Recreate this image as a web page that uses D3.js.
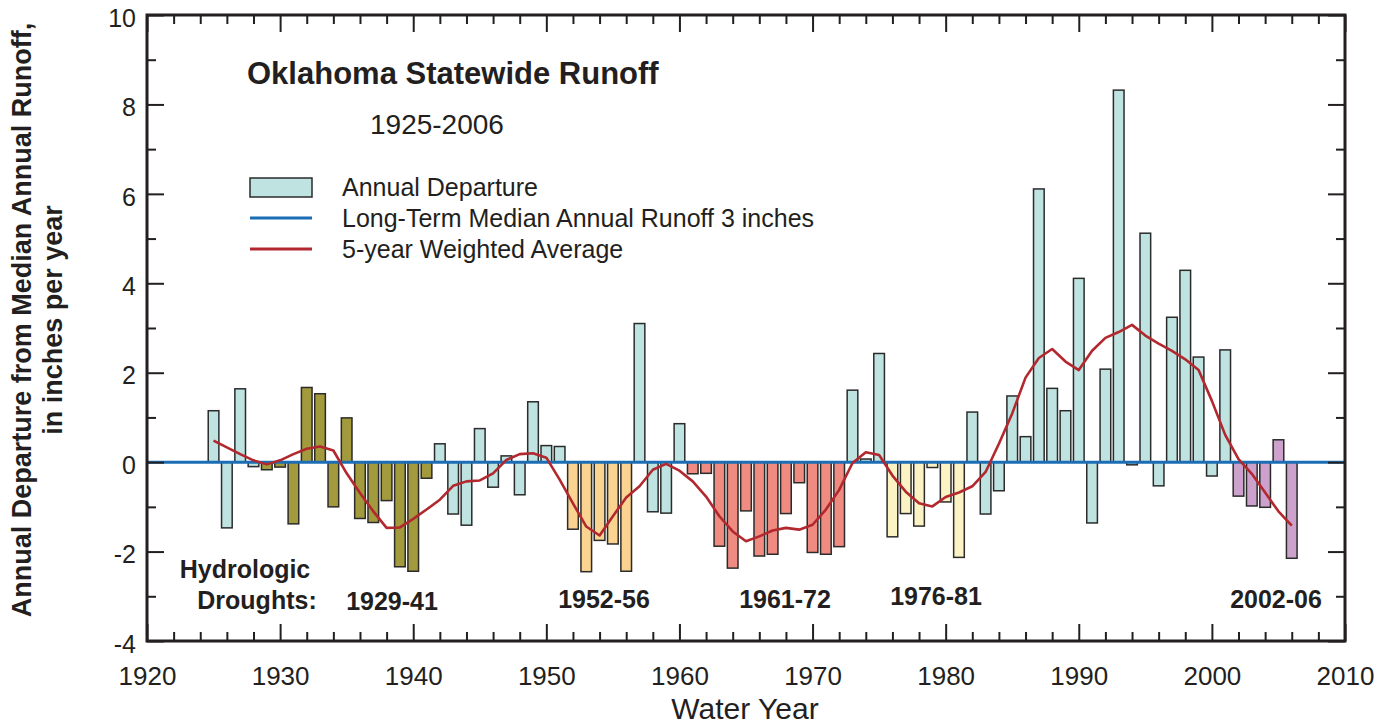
<!DOCTYPE html>
<html>
<head>
<meta charset="utf-8">
<script src="https://cdn.jsdelivr.net/npm/d3@7"></script>
<style>
  html, body { margin: 0; padding: 0; background: #fff; }
  svg { display: block; }
  text { font-family: "Liberation Sans", Arial, Helvetica, sans-serif; fill: #231f20; }
</style>
</head>
<body>
<div id="chart"></div>
<script>
// ---------------- DATA ----------------
const years = d3.range(1925, 2007);
const departures = [
  1.15, -1.47, 1.64, -0.10, -0.17, -0.11, -1.38, 1.67, 1.53, -1.00,   // 1925-1934
  0.99, -1.26, -1.35, -0.86, -2.34, -2.44, -0.36, 0.41, -1.16, -1.41,  // 1935-1944
  0.75, -0.56, 0.14, -0.73, 1.35, 0.37, 0.35, -1.50, -2.45, -1.75,     // 1945-1954
  -1.83, -2.44, 3.10, -1.11, -1.14, 0.86, -0.26, -0.25, -1.88, -2.37,  // 1955-1964
  -1.09, -2.10, -2.06, -1.15, -0.46, -2.02, -2.06, -1.89, 1.61, 0.07,  // 1965-1974
  2.43, -1.67, -1.15, -1.43, -0.12, -0.89, -2.13, 1.12, -1.16, -0.64,  // 1975-1984
  1.48, 0.57, 6.11, 1.65, 1.15, 4.11, -1.36, 2.08, 8.32, -0.06,        // 1985-1994
  5.12, -0.53, 3.24, 4.29, 2.35, -0.31, 2.51, -0.76, -0.98, -1.01,     // 1995-2004
  0.50, -2.15                                                          // 2005-2006
];
const weightedAvg = [
  0.48, 0.33, 0.18, 0.04, -0.05, 0.04, 0.18, 0.30, 0.35, 0.26,         // 1925-1934
  -0.25, -0.69, -1.10, -1.47, -1.46, -1.27, -1.06, -0.84, -0.53, -0.43,// 1935-1944
  -0.41, -0.25, 0.05, 0.18, 0.20, 0.10, -0.39, -0.92, -1.44, -1.64,    // 1945-1954
  -1.21, -0.79, -0.54, -0.17, -0.04, -0.19, -0.43, -0.77, -1.21, -1.55,// 1955-1964
  -1.77, -1.66, -1.53, -1.47, -1.51, -1.40, -1.06, -0.62, -0.02, 0.22, // 1965-1974
  0.16, -0.30, -0.66, -0.92, -0.99, -0.78, -0.68, -0.54, -0.22, 0.41,  // 1975-1984
  1.09, 1.89, 2.33, 2.53, 2.25, 2.06, 2.49, 2.78, 2.91, 3.07,          // 1985-1994
  2.83, 2.65, 2.49, 2.30, 2.06, 1.37, 0.61, 0.07, -0.26, -0.68,        // 1995-2004
  -1.10, -1.42                                                         // 2005-2006
];
const droughtLabels = ["1929-41", "1952-56", "1961-72", "1976-81", "2002-06"];
const droughtStart = [1929, 1952, 1961, 1976, 2002];
const droughtEnd = [1941, 1956, 1972, 1981, 2006];
const droughtColors = ["#a29a3c", "#fbd391", "#f08b81", "#fcf3c5", "#cca2cd"];
const normalColor = "#bee3e0";
const xMajorTicks = d3.range(1920, 2011, 10);
const xMinorTicks = d3.range(1920, 2011, 2).filter(v => v % 10 !== 0);
const yMajorTicks = d3.range(-4, 11, 2);
const yMinorTicks = d3.range(-3, 10, 2);
const medianRunoff = 0;

// ---------------- LAYOUT ----------------
const W = 1391, H = 728;
const L = 147, R = 1345, T = 15, B = 641;

const svg = d3.select("#chart").append("svg").attr("width", W).attr("height", H);

const x = d3.scaleLinear().domain([1920, 2010]).range([L, R]);
const y = d3.scaleLinear().domain([-4, 10]).range([B, T]);
const barW = (x(1921) - x(1920)) * 0.8;

function colorFor(yr) {
  for (let i = 0; i < droughtStart.length; i++) {
    if (yr >= droughtStart[i] && yr <= droughtEnd[i]) return droughtColors[i];
  }
  return normalColor;
}

const data = years.map((yr, i) => ({ year: yr, dep: departures[i], avg: weightedAvg[i] }));

// bars
svg.append("g").selectAll("rect").data(data).enter().append("rect")
  .attr("x", d => x(d.year) - barW / 2)
  .attr("width", barW)
  .attr("y", d => y(Math.max(0, d.dep)))
  .attr("height", d => Math.abs(y(d.dep) - y(0)))
  .attr("fill", d => colorFor(d.year))
  .attr("stroke", "#2b2b2b")
  .attr("stroke-width", 1.5);

// median line
svg.append("line")
  .attr("x1", x(1920)).attr("x2", x(2010))
  .attr("y1", y(medianRunoff)).attr("y2", y(medianRunoff))
  .attr("stroke", "#1b6db5").attr("stroke-width", 3);

// weighted average line
svg.append("path").datum(data)
  .attr("fill", "none")
  .attr("stroke", "#b2282e")
  .attr("stroke-width", 2.6)
  .attr("stroke-linejoin", "round")
  .attr("d", d3.line().x(d => x(d.year)).y(d => y(d.avg)));

// ---------------- AXES ----------------
function styleAxis(g) {
  g.select(".domain").remove();
  g.selectAll(".tick line").attr("stroke", "#231f20").attr("stroke-width", 2);
}
const majLen = 17, minLen = 9;
const plainNum = d => String(d);

svg.append("g").attr("transform", `translate(0,${B})`)
  .call(d3.axisBottom(x).tickValues(xMajorTicks).tickSize(-majLen).tickPadding(26).tickFormat(plainNum))
  .call(styleAxis)
  .call(g => g.selectAll("text").attr("font-size", 26).attr("fill", "#231f20"));
svg.append("g").attr("transform", `translate(0,${B})`)
  .call(d3.axisBottom(x).tickValues(xMinorTicks).tickSize(-minLen).tickFormat(""))
  .call(styleAxis);
svg.append("g").attr("transform", `translate(0,${T})`)
  .call(d3.axisTop(x).tickValues(xMajorTicks).tickSize(-majLen).tickFormat(""))
  .call(styleAxis);
svg.append("g").attr("transform", `translate(0,${T})`)
  .call(d3.axisTop(x).tickValues(xMinorTicks).tickSize(-minLen).tickFormat(""))
  .call(styleAxis);

svg.append("g").attr("transform", `translate(${L},0)`)
  .call(d3.axisLeft(y).tickValues(yMajorTicks).tickSize(-majLen).tickPadding(11).tickFormat(plainNum))
  .call(styleAxis)
  .call(g => g.selectAll("text").attr("font-size", 25).attr("fill", "#231f20").attr("dy", "0.45em"));
svg.append("g").attr("transform", `translate(${L},0)`)
  .call(d3.axisLeft(y).tickValues(yMinorTicks).tickSize(-minLen).tickFormat(""))
  .call(styleAxis);
svg.append("g").attr("transform", `translate(${R},0)`)
  .call(d3.axisRight(y).tickValues(yMajorTicks).tickSize(-majLen).tickFormat(""))
  .call(styleAxis);
svg.append("g").attr("transform", `translate(${R},0)`)
  .call(d3.axisRight(y).tickValues(yMinorTicks).tickSize(-minLen).tickFormat(""))
  .call(styleAxis);

// frame
svg.append("rect").attr("x", L).attr("y", T).attr("width", R - L).attr("height", B - T)
  .attr("fill", "none").attr("stroke", "#231f20").attr("stroke-width", 3);

// axis titles
svg.append("text").attr("x", 745).attr("y", 719).attr("text-anchor", "middle")
  .attr("font-size", 30).text("Water Year");
const yt = svg.append("text").attr("transform", "translate(0,320) rotate(-90)")
  .attr("text-anchor", "middle").attr("font-size", 27).attr("font-weight", "bold");
yt.append("tspan").attr("x", 0).attr("y", 31).text("Annual Departure from Median Annual Runoff,");
yt.append("tspan").attr("x", 0).attr("y", 62).text("in inches per year");

// title
svg.append("text").attr("x", 247).attr("y", 84).attr("font-size", 31).attr("font-weight", "bold")
  .text("Oklahoma Statewide Runoff");
svg.append("text").attr("x", 370).attr("y", 134).attr("font-size", 28).text("1925-2006");

// legend
const lg = svg.append("g");
lg.append("rect").attr("x", 250).attr("y", 178).attr("width", 62).attr("height", 19)
  .attr("fill", normalColor).attr("stroke", "#2b2b2b").attr("stroke-width", 1.5);
lg.append("line").attr("x1", 250).attr("x2", 312).attr("y1", 218).attr("y2", 218)
  .attr("stroke", "#1b6db5").attr("stroke-width", 3);
lg.append("line").attr("x1", 250).attr("x2", 312).attr("y1", 249).attr("y2", 249)
  .attr("stroke", "#b2282e").attr("stroke-width", 3);
const legTexts = ["Annual Departure", "Long-Term Median Annual Runoff 3 inches", "5-year Weighted Average"];
lg.selectAll("text.leg").data(legTexts).enter().append("text")
  .attr("class", "leg")
  .attr("x", 342).attr("y", (d, i) => 196 + i * 31)
  .attr("font-size", 25).text(d => d);

// drought labels
svg.append("text").attr("x", 245).attr("y", 578).attr("text-anchor", "middle")
  .attr("font-size", 25).attr("font-weight", "bold").text("Hydrologic");
svg.append("text").attr("x", 257).attr("y", 609).attr("text-anchor", "middle")
  .attr("font-size", 25).attr("font-weight", "bold").text("Droughts:");
const droughtLabelX = [392, 604, 785, 936, 1276];
const droughtLabelY = [610, 608, 608, 605, 608];
svg.selectAll("text.dl").data(droughtLabels).enter().append("text")
  .attr("class", "dl")
  .attr("x", (d, i) => droughtLabelX[i]).attr("y", (d, i) => droughtLabelY[i])
  .attr("text-anchor", "middle").attr("font-size", 25).attr("font-weight", "bold")
  .text(d => d);
</script>
</body>
</html>
